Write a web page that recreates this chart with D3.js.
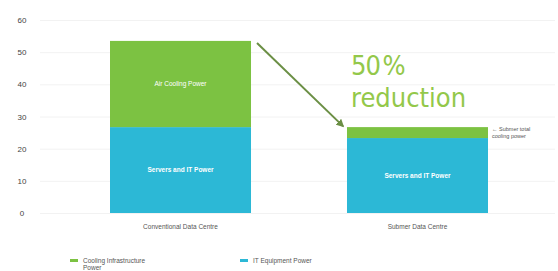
<!DOCTYPE html>
<html>
<head>
<meta charset="utf-8">
<script src="https://cdn.jsdelivr.net/npm/d3@7"></script>
<style>
  html, body { margin: 0; padding: 0; background: #fff; }
  svg { display: block; font-family: "Liberation Sans", Arial, sans-serif; }
</style>
</head>
<body>
<div id="chart"></div>
<script>
// data
const categories = ['Conventional Data Centre', 'Submer Data Centre'];
const itPower = [26.7, 23.3];
const coolingPower = [26.8, 3.4];
const yTicks = [0, 10, 20, 30, 40, 50, 60];
const barLabelsCooling = ['Air Cooling Power', ''];
const barLabelsIT = ['Servers and IT Power', 'Servers and IT Power'];
const legendLabels = [['Cooling Infrastructure', 'Power'], ['IT Equipment Power']];

const W = 558, H = 271;
const green = '#7cc242', blue = '#2cb8d6';

const svg = d3.select('#chart').append('svg')
  .attr('width', W).attr('height', H);

const x = d3.scaleBand().domain(categories).range([110, 488]).paddingInner(0.405).paddingOuter(0);
const y = d3.scaleLinear().domain([0, 60]).range([213, 20]);

// grid
svg.append('g').selectAll('line').data(yTicks).join('line')
  .attr('x1', 40).attr('x2', 555)
  .attr('y1', d => y(d) + 0.5).attr('y2', d => y(d) + 0.5)
  .attr('stroke', '#f2f2f2');

// y axis labels
const yAxis = svg.append('g').attr('transform', 'translate(22,0)')
  .call(d3.axisLeft(y).tickValues(yTicks).tickSize(0).tickPadding(0));
yAxis.select('.domain').remove();
yAxis.selectAll('text').attr('x', 0).attr('text-anchor', 'middle')
  .attr('fill', '#444').style('font-size', '8px');

// stacked bars
const rows = categories.map((c, i) => ({ cat: c, it: itPower[i], cool: coolingPower[i] }));
const stack = d3.stack().keys(['it', 'cool'])(rows);
const colors = { it: blue, cool: green };

svg.append('g').selectAll('g').data(stack).join('g')
  .attr('fill', s => colors[s.key])
  .selectAll('rect').data(s => s).join('rect')
  .attr('x', d => x(d.data.cat))
  .attr('width', x.bandwidth())
  .attr('y', d => y(d[1]))
  .attr('height', d => y(d[0]) - y(d[1]));

// labels inside bars
const inner = svg.append('g').attr('fill', '#fff').style('font-size', '6.5px')
  .attr('text-anchor', 'middle');
rows.forEach((r, i) => {
  const cx = x(r.cat) + x.bandwidth() / 2;
  if (barLabelsCooling[i]) {
    inner.append('text').attr('x', cx).attr('y', y(r.it + r.cool / 2) + 2).text(barLabelsCooling[i]);
  }
  inner.append('text').attr('x', cx).attr('y', y(r.it / 2) + 2)
    .style('font-weight', 'bold').text(barLabelsIT[i]);
});

// category labels
svg.append('g').selectAll('text').data(categories).join('text')
  .attr('x', d => x(d) + x.bandwidth() / 2)
  .attr('y', 229)
  .attr('text-anchor', 'middle')
  .attr('fill', '#555')
  .style('font-size', '6.5px')
  .text(d => d);

// arrow from first bar top to second bar top
const defs = svg.append('defs');
defs.append('marker').attr('id', 'ah')
  .attr('viewBox', '0 0 10 10').attr('refX', 8).attr('refY', 5)
  .attr('markerWidth', 4).attr('markerHeight', 4).attr('orient', 'auto')
  .append('path').attr('d', 'M0,0 L10,5 L0,10 z').attr('fill', '#6b8f45');

const x0 = x(categories[0]) + x.bandwidth() + 6;
const x1 = x(categories[1]) - 4;
svg.append('line')
  .attr('x1', x0).attr('y1', y(itPower[0] + coolingPower[0]) + 2)
  .attr('x2', x1).attr('y2', y(itPower[1] + coolingPower[1]) - 1)
  .attr('stroke', '#6b8f45').attr('stroke-width', 2)
  .attr('marker-end', 'url(#ah)');

// annotation
const ann = svg.append('text').attr('fill', '#93c84a')
  .style('font-size', '27px').style('font-family', '"DejaVu Sans Condensed", "Liberation Sans Narrow", sans-serif');
ann.append('tspan').attr('x', 351).attr('y', 75).style('word-spacing', '-4px').style('letter-spacing', '-1px').text('50 %');
ann.append('tspan').attr('x', 351).attr('y', 107).text('reduction');

// side note for the small cooling slice
const side = svg.append('text').attr('fill', '#555').style('font-size', '5.5px');
side.append('tspan').attr('x', 492).attr('y', 131).text('← Submer total');
side.append('tspan').attr('x', 492).attr('y', 138).text('cooling power');

// legend
const lg = svg.append('g').style('font-size', '6.5px').attr('fill', '#555');
const lgX = [70, 240], lgC = [green, blue];
legendLabels.forEach((lines, i) => {
  lg.append('rect').attr('x', lgX[i]).attr('y', 259).attr('width', 8).attr('height', 3).attr('fill', lgC[i]);
  const t = lg.append('text');
  lines.forEach((l, j) => t.append('tspan').attr('x', lgX[i] + 13).attr('y', 263 + j * 7).text(l));
});
</script>
</body>
</html>
